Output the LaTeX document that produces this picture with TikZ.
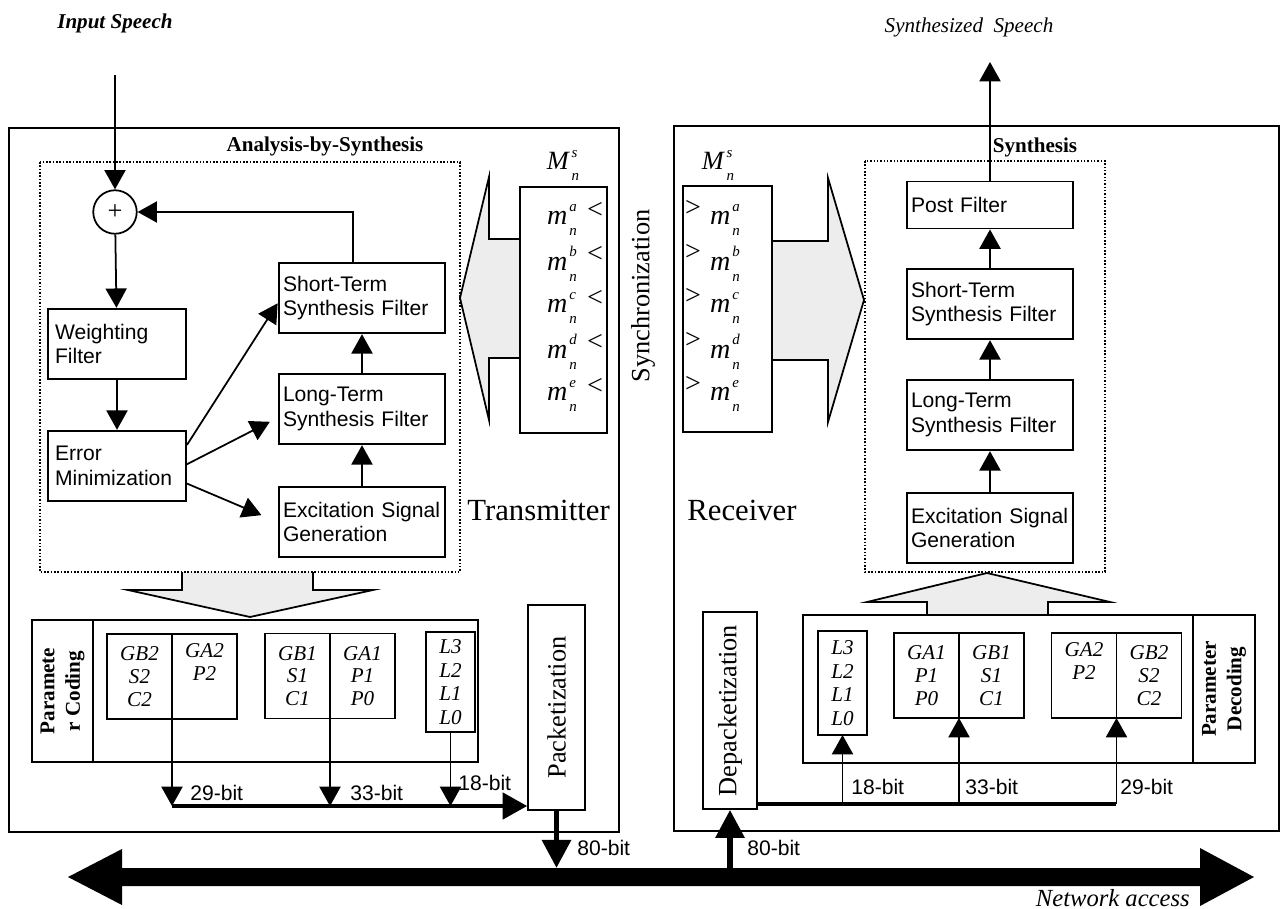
\documentclass[tikz,border=0pt]{standalone}
\usepackage{fontspec}
\setmainfont{Liberation Serif}
\setsansfont{Liberation Sans}
\usepackage{tikz}
\usetikzlibrary{arrows.meta,positioning}
\newcommand{\msym}[2]{\textit{#1}\kern1pt\rlap{\raisebox{1.05ex}{\fontsize{8.5}{9}\selectfont\textit{#2}}}\raisebox{-0.85ex}{\fontsize{8.5}{9}\selectfont\textit{n}}}
\tikzset{
    block/.style={draw, line width=1.1pt, font=\sffamily\fontsize{12}{14}\selectfont,
    align=left, inner ysep=2pt, minimum height=1.41cm},
    wideblock/.style={block, inner xsep=2.5pt, text width=3.16cm},
    narrowblock/.style={block, inner xsep=4pt, text width=2.48cm},
    cell/.style={draw, line width=1pt, font=\itshape\fontsize{12}{13}\selectfont,
    align=center, inner sep=0pt, outer sep=0pt, minimum width=1.3cm, minimum height=1.7cm},
    plainbox/.style={draw, line width=1pt, inner sep=0pt},
    vtext/.style={font=\fontsize{15}{17}\selectfont, rotate=90},
    sidetitle/.style={font=\bfseries\fontsize{12}{14.5}\selectfont, rotate=90, align=center},
    arr/.style={line width=1pt, -{Triangle[length=11pt,width=12pt]}},
    busline/.style={line width=2.3pt},
    fatarr/.style={line width=3.4pt, -{Triangle[length=16pt,width=16pt]}},
    bits/.style={font=\sffamily\fontsize{12}{14}\selectfont, anchor=west, inner sep=0pt},
    hollow/.style={line width=1pt, fill=black!7, line join=miter},
    frame/.style={line width=1pt},
    dotbox/.style={line width=0.9pt, densely dotted},
    sidetext/.style={font=\fontsize{17.5}{20}\selectfont, anchor=base west, inner sep=0pt},
    mvar/.style={font=\fontsize{16}{18}\selectfont, inner sep=0pt},
    title/.style={font=\bfseries\fontsize{12}{14}\selectfont, inner sep=0pt},
}

\begin{document}
\begin{tikzpicture}[x=0.02cm, y=-0.02cm, node distance=0pt]
    \useasboundingbox (0,0) rectangle (1281,909);
    % --- frames ---
    \draw[frame] (9,128) rectangle (619,832);
    \draw[frame] (674,126) rectangle (1279,831);
    % --- hollow arrows ---
    \filldraw[hollow] (520,239) -- (489,239) -- (489,177) -- (460,298) -- (489,420) -- (489,358) -- (520,358);
    \filldraw[hollow] (772,241) -- (828,241) -- (828,178) -- (864,300) -- (828,422) -- (828,360) -- (772,360);
    \filldraw[hollow] (182,572) -- (182,590) -- (128,590) -- (250,617) -- (373,590) -- (313,590) -- (313,572);
    \filldraw[hollow] (927,615) -- (927,602) -- (867,602) -- (987,573) -- (1110,602) -- (1048,602) -- (1048,615);
    \draw[dotbox] (40,162) rectangle (460,572);
    \draw[dotbox] (865,161) rectangle (1105,572);
    \node[title] (abs) at (325,146) {Analysis-by-Synthesis};
    \node[title] (syn) at (1035,147) {Synthesis};
    \node[font=\bfseries\itshape\fontsize{12}{14}\selectfont] (inspeech) at (115,23) {Input Speech};
    \node[font=\itshape\fontsize{12}{14}\selectfont] (outspeech) at (969,27) {Synthesized\hspace{3pt} Speech};
    % --- transmitter loop ---
    \coordinate (inp) at (115,75);
    \node[draw, circle, line width=1pt, minimum size=0.87cm, inner sep=0pt,
          font=\fontsize{15}{15}\selectfont] (sum) at (115,212) {+};
    \node[narrowblock] (wf) at (117,344) {Weighting\\Filter};
    \node[narrowblock] (em) at (117,466) {Error\\Minimization};
    \node[wideblock] (st) at (362,298) {Short-Term\\Synthesis Filter};
    \node[wideblock] (lt) at (362,409) {Long-Term\\Synthesis Filter};
    \node[wideblock] (ex) at (362,522) {Excitation Signal\\Generation};
    \draw[arr] (inp) -- (sum);
    \draw[arr] (sum) -- (wf);
    \draw[arr] (wf) -- (em);
    \draw[arr] ([xshift=-5pt]st.north) |- (sum.east);
    \draw[arr] ([yshift=12pt]em.east) -- ([yshift=-3pt]st.west);
    \draw[arr, shorten >=5pt] ([yshift=1pt]em.east) -- ([yshift=-5pt]lt.west);
    \draw[arr, shorten >=10pt] ([yshift=-10pt]em.east) -- (ex.west);
    \draw[arr] (ex) -- (lt);
    \draw[arr] (lt) -- (st);
    % --- receiver chain ---
    \coordinate (outp) at (990,62);
    \node[wideblock, minimum height=0.94cm] (rpf) at (990,205) {Post Filter};
    \node[wideblock] (rst) at (990,304) {Short-Term\\Synthesis Filter};
    \node[wideblock] (rlt) at (990,415) {Long-Term\\Synthesis Filter};
    \node[wideblock] (rex) at (990,528) {Excitation Signal\\Generation};
    \draw[arr] (rex) -- (rlt);
    \draw[arr] (rlt) -- (rst);
    \draw[arr] (rst) -- (rpf);
    \draw[arr] (rpf) -- (outp);
    % --- parameter sets ---
    \node[plainbox, minimum width=1.74cm, minimum height=4.92cm] (tms) at (563.5,310) {};
    \node[plainbox, minimum width=1.78cm, minimum height=4.92cm] (rms) at (727.5,309) {};
    \node[mvar, font=\fontsize{15}{17}\selectfont] (tmlbl) at (563,165) {\msym{M}{s}};
    \node[mvar, font=\fontsize{15}{17}\selectfont] (rmlbl) at (718,165) {\msym{M}{s}};
    \foreach \s [count=\i from 0] in {a,b,c,d,e} {
        \node[mvar] (tm\s) at (562,{220+44*\i}) {\msym{m}{\s}};
        \node[mvar] (tlt\s) at (595,{210+44*\i}) {\textless};
        \node[mvar] (rm\s) at (725,{220+44*\i}) {\msym{m}{\s}};
        \node[mvar] (rgt\s) at (693,{208+44*\i}) {\textgreater};
    }
    \node[vtext] (sync) at (643,296) {Synchronization};
    \node[sidetext] (txlbl) at (467,520) {Transmitter};
    \node[sidetext] (rxlbl) at (687,520) {Receiver};
    % --- parameter coding ---
    \node[plainbox, minimum width=8.92cm, minimum height=2.84cm] (pcod) at (255,691) {};
    \node[plainbox, minimum width=1.22cm, minimum height=2.84cm] (pcodside) at (62.5,691) {};
    \node[sidetitle] (pcodtxt) at (pcodside) {Paramete\\r Coding};
    \node[cell] (gb2) at (139.5,676.5) {GB2\\S2\\C2};
    \node[cell, right=of gb2] (ga2) {GA2\\P2\\\strut};
    \node[cell] (gb1) at (297.5,676) {GB1\\S1\\C1};
    \node[cell, right=of gb1] (ga1) {GA1\\P1\\P0};
    \node[cell, minimum width=0.98cm, minimum height=2.0cm, font=\itshape\fontsize{12}{13.5}\selectfont] (lq) at (450.5,682) {L3\\L2\\L1\\L0};
    \node[plainbox, minimum width=1.14cm, minimum height=4.1cm] (pack) at (556.5,707.5) {};
    \node[vtext] (packtxt) at (pack) {Packetization};
    \coordinate (txbus) at (172,806);
    \draw[arr] (gb2.south east) -- (gb2.south east |- txbus);
    \draw[arr] (gb1.south east) -- (gb1.south east |- txbus);
    \draw[arr] (lq.south) -- (lq.south |- txbus);
    \draw[busline, -{Triangle[length=14pt,width=15pt]}] (txbus) -- (txbus -| pack.west);
    \node[bits] (b29t) at (190,793) {29-bit};
    \node[bits] (b33t) at (350,793) {33-bit};
    \node[bits] (b18t) at (458,783) {18-bit};
    % --- parameter decoding ---
    \node[plainbox, minimum width=9.04cm, minimum height=2.96cm] (pdec) at (1029,689) {};
    \node[plainbox, minimum width=1.24cm, minimum height=2.96cm] (pdecside) at (1224,689) {};
    \node[sidetitle] (pdectxt) at (pdecside) {Parameter\\Decoding};
    \node[cell, minimum width=0.98cm, minimum height=2.08cm, font=\itshape\fontsize{12}{13.5}\selectfont] (lqr) at (842.5,683) {L3\\L2\\L1\\L0};
    \node[cell] (ga1r) at (926.5,675.5) {GA1\\P1\\P0};
    \node[cell, right=of ga1r] (gb1r) {GB1\\S1\\C1};
    \node[cell] (ga2r) at (1084,675.5) {GA2\\P2\\\strut};
    \node[cell, right=of ga2r] (gb2r) {GB2\\S2\\C2};
    \node[plainbox, minimum width=1.08cm, minimum height=3.94cm] (depack) at (730,710.5) {};
    \node[vtext] (depacktxt) at (depack) {Depacketization};
    \coordinate (rxbus) at (1116,804);
    \draw[busline] (rxbus -| depack.east) -- (rxbus);
    \draw[arr] (lqr.south |- rxbus) -- (lqr.south);
    \draw[arr] (ga1r.south east |- rxbus) -- (ga1r.south east);
    \draw[arr] (ga2r.south east |- rxbus) -- (ga2r.south east);
    \node[bits] (b18r) at (851,787) {18-bit};
    \node[bits] (b33r) at (965,787) {33-bit};
    \node[bits] (b29r) at (1120,787) {29-bit};
    % --- network ---
    \coordinate (nettop) at (0,868);
    \fill (68,877) -- (122,849) -- (122,868) -- (1200,868) -- (1200,848) -- (1254,877)
        -- (1200,906) -- (1200,886) -- (122,886) -- (122,905) -- cycle;
    \draw[fatarr] (pack.south) -- (pack.south |- nettop);
    \draw[fatarr] (depack.south |- nettop) -- (depack.south);
    \node[bits] (b80t) at (577,848) {80-bit};
    \node[bits] (b80r) at (747,848) {80-bit};
    \node[font=\itshape\fontsize{14}{16}\selectfont, anchor=base east, inner sep=0pt] (net) at (1190,906) {Network access};
\end{tikzpicture}
\end{document}
